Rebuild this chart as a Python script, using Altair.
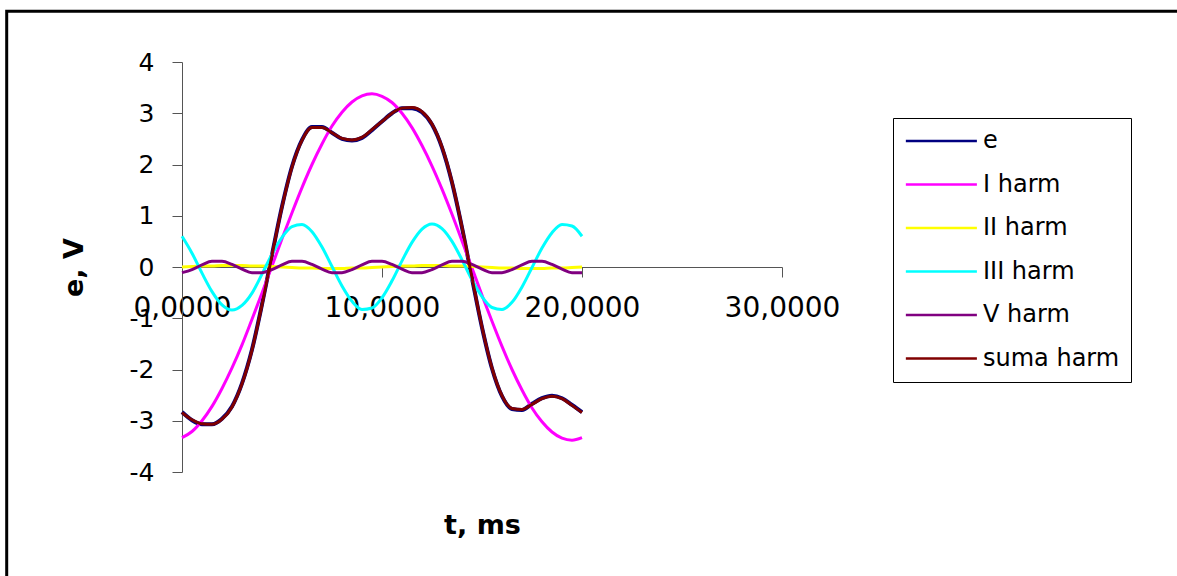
import altair as alt
import pandas as pd

# Time samples (ms)
t_ms = [0.0, 0.5, 1.0, 1.5, 2.0, 2.5, 3.0, 3.5, 4.0, 4.5,
        5.0, 5.5, 6.0, 6.5, 7.0, 7.5, 8.0, 8.5, 9.0, 9.5,
        10.0, 10.5, 11.0, 11.5, 12.0, 12.5, 13.0, 13.5, 14.0, 14.5,
        15.0, 15.5, 16.0, 16.5, 17.0, 17.5, 18.0, 18.5, 19.0, 19.5, 20.0]

harm_1 = [-3.33, -3.21, -3.00, -2.72, -2.37, -1.97, -1.52, -1.02, -0.51, 0.02,
          0.55, 1.06, 1.55, 2.00, 2.40, 2.75, 3.02, 3.22, 3.34, 3.38,
          3.33, 3.21, 3.00, 2.72, 2.37, 1.97, 1.52, 1.03, 0.51, -0.02,
          -0.55, -1.06, -1.55, -2.00, -2.40, -2.75, -3.02, -3.22, -3.34, -3.38, -3.33]

harm_2 = [0.00, 0.01, 0.02, 0.02, 0.03, 0.03, 0.03, 0.02, 0.02, 0.01,
          0.00, -0.01, -0.02, -0.02, -0.03, -0.03, -0.03, -0.02, -0.02, -0.01,
          0.00, 0.01, 0.02, 0.02, 0.03, 0.03, 0.03, 0.02, 0.02, 0.01,
          0.00, -0.01, -0.02, -0.02, -0.03, -0.03, -0.03, -0.02, -0.02, -0.01, 0.00]

harm_3 = [0.60, 0.27, -0.12, -0.48, -0.74, -0.84, -0.75, -0.51, -0.14, 0.25,
          0.58, 0.79, 0.83, 0.69, 0.39, 0.01, -0.37, -0.67, -0.83, -0.80,
          -0.60, -0.27, 0.12, 0.48, 0.74, 0.84, 0.75, 0.50, 0.14, -0.25,
          -0.58, -0.79, -0.83, -0.69, -0.39, -0.01, 0.37, 0.67, 0.83, 0.80, 0.60]

harm_5 = [-0.11, -0.05, 0.04, 0.11, 0.11, 0.05, -0.04, -0.11, -0.11, -0.05,
          0.04, 0.11, 0.11, 0.05, -0.04, -0.11, -0.11, -0.05, 0.04, 0.11,
          0.11, 0.05, -0.04, -0.11, -0.11, -0.05, 0.04, 0.11, 0.11, 0.05,
          -0.04, -0.11, -0.11, -0.05, 0.04, 0.11, 0.11, 0.05, -0.04, -0.11, -0.11]

harm_sum = [-2.84, -2.98, -3.06, -3.07, -2.97, -2.73, -2.28, -1.62, -0.74, 0.23,
            1.17, 1.95, 2.47, 2.72, 2.72, 2.62, 2.51, 2.48, 2.53, 2.68,
            2.84, 3.00, 3.10, 3.11, 3.03, 2.79, 2.34, 1.66, 0.78, -0.21,
            -1.17, -1.97, -2.51, -2.76, -2.78, -2.68, -2.57, -2.52, -2.57, -2.70, -2.84]

e_wave = [-2.83, -2.99, -3.07, -3.07, -2.96, -2.72, -2.27, -1.61, -0.73, 0.24,
          1.18, 1.96, 2.48, 2.73, 2.73, 2.62, 2.50, 2.47, 2.52, 2.67,
          2.84, 3.00, 3.10, 3.10, 3.02, 2.78, 2.33, 1.65, 0.77, -0.22,
          -1.18, -1.98, -2.52, -2.77, -2.79, -2.67, -2.56, -2.51, -2.56, -2.69, -2.83]

series_names = ["e", "I harm", "II harm", "III harm", "V harm", "suma harm"]
series_colors = ["#000080", "#FF00FF", "#FFFF00", "#00FFFF", "#800080", "#800000"]
series_values = [e_wave, harm_1, harm_2, harm_3, harm_5, harm_sum]

x_ticks = [0, 10, 20, 30]
y_ticks = [-4, -3, -2, -1, 0, 1, 2, 3, 4]

rows = []
for name, vals in zip(series_names, series_values):
    for t, v in zip(t_ms, vals):
        rows.append({"t": t, "v": v, "serie": name})
df = pd.DataFrame(rows)

FONT = "DejaVu Sans"
W, H = 600, 410

color = alt.Color(
    "serie:N",
    scale=alt.Scale(domain=series_names, range=series_colors),
    legend=alt.Legend(
        orient="none", legendX=711, legendY=56, title=None,
        symbolType="M-1,0H6", symbolSize=412, symbolStrokeWidth=2.5,
        labelFont=FONT, labelFontSize=24, labelColor="black",
        labelOffset=55, rowPadding=19.5, padding=11,
        strokeColor="black", fillColor="white",
    ),
)

x_enc = alt.X(
    "t:Q",
    scale=alt.Scale(domain=[0, 30], nice=False, zero=False),
    axis=alt.Axis(
        values=x_ticks,
        labelExpr="replace(format(datum.value, '.4f'), '.', ',')",
        offset=-H / 2, tickSize=10, labelPadding=17,
        labelFont=FONT, labelFontSize=28, labelColor="black",
        labelFlush=False, labelOverlap=False,
        domainColor="#555555", tickColor="#555555", grid=False,
        title="t, ms", titleFont=FONT, titleFontSize=27, titleFontWeight="bold",
        titleColor="black", titleX=W / 2, titleY=266,
        titleAlign="center", titleBaseline="alphabetic",
    ),
)

y_enc = alt.Y(
    "v:Q",
    scale=alt.Scale(domain=[-4, 4], nice=False),
    axis=alt.Axis(
        values=y_ticks,
        labelExpr="datum.value < 0 ? '-' + abs(datum.value) : '' + datum.value",
        tickSize=10, labelPadding=18,
        labelFont=FONT, labelFontSize=25, labelColor="black",
        domainColor="#555555", tickColor="#555555", grid=False,
        title="e, V", titleFont=FONT, titleFontSize=27, titleFontWeight="bold",
        titleColor="black", titleX=-108, titleY=H / 2,
        titleAngle=270, titleAlign="center", titleBaseline="middle",
    ),
)

base = alt.Chart(df)

e_line = base.transform_filter(alt.datum.serie == "e").mark_line(
    strokeWidth=4, interpolate="monotone"
).encode(x=x_enc, y=y_enc, color=color)

harm_lines = base.transform_filter(alt.datum.serie != "e").mark_line(
    strokeWidth=3, interpolate="monotone"
).encode(x=x_enc, y=y_enc, color=color)

frame = alt.Chart(alt.Data(values=[{}])).mark_rect(
    filled=False, stroke="black", strokeWidth=3
).encode(
    x=alt.value(-175.3), x2=alt.value(1100),
    y=alt.value(-50.7), y2=alt.value(600),
)

chart = alt.layer(frame, e_line, harm_lines).properties(
    width=W, height=H,
    autosize=alt.AutoSizeParams(type="none"),
    padding={"left": 182, "top": 62, "right": 395, "bottom": 104},
    background="white",
).configure_view(stroke=None)

chart.save("out.html", embed_options={"renderer": "svg", "actions": False})
